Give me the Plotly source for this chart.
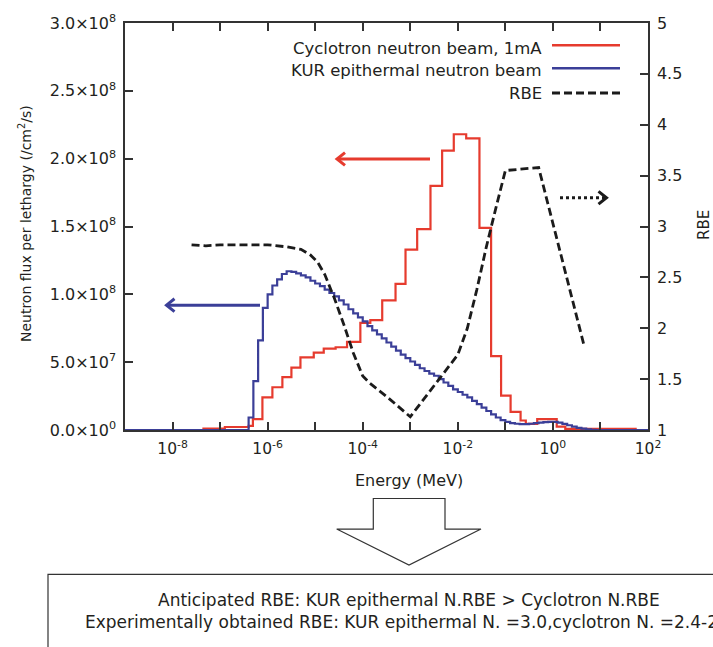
import plotly.graph_objects as go

# ---------------- data ----------------
# Cyclotron neutron beam, 1 mA : step histogram, bin edges in log10(E/MeV), flux in units of 1e8
red_edges_log = [-9.0, -7.35, -6.9, -6.40, -6.31, -6.11, -5.90, -5.69, -5.50, -5.31,
                 -5.03, -4.82, -4.57, -4.33, -4.05, -3.84, -3.59, -3.31, -3.10, -2.855,
                 -2.575, -2.33, -2.085, -1.824, -1.545, -1.30, -1.09, -0.89, -0.68, -0.57,
                 -0.33, 0.08, 0.26, 1.74, 2.0]
red_flux = [0.0, 0.01, 0.022, 0.03, 0.08, 0.24, 0.315, 0.39, 0.46, 0.535,
            0.57, 0.60, 0.61, 0.65, 0.79, 0.81, 0.956, 1.077, 1.33, 1.48,
            1.80, 2.06, 2.18, 2.15, 1.49, 0.545, 0.254, 0.133, 0.07, 0.045,
            0.08, 0.025, 0.008, 0.0]

# KUR epithermal neutron beam : fine step histogram, bins of 0.1 decade starting at 10^-6.4 MeV
blue_start_log = -6.4
blue_bin_log = 0.1
blue_flux = [0.092, 0.36, 0.66, 0.90, 1.00, 1.065, 1.11, 1.15, 1.17, 1.165,
             1.155, 1.14, 1.125, 1.10, 1.08, 1.06, 1.035, 1.01, 0.985, 0.955,
             0.925, 0.89, 0.86, 0.83, 0.80, 0.765, 0.735, 0.705, 0.675, 0.645,
             0.615, 0.585, 0.555, 0.53, 0.505, 0.48, 0.455, 0.435, 0.415, 0.40,
             0.375, 0.35, 0.325, 0.30, 0.28, 0.26, 0.24, 0.215, 0.19, 0.165,
             0.14, 0.115, 0.092, 0.073, 0.06, 0.05, 0.046, 0.044, 0.044, 0.046,
             0.05, 0.054, 0.058, 0.06, 0.06, 0.055, 0.045, 0.035, 0.025, 0.016,
             0.01, 0.005, 0.002, 0.0]

# RBE curve (right axis)
rbe_log_energy = [-7.6, -7.3, -7.0, -6.5, -6.0, -5.6, -5.3, -5.1, -4.95, -4.8,
                  -4.6, -4.4, -4.2, -4.0, -3.85, -3.5, -3.0, -2.0, -1.8, -1.6,
                  -1.4, -1.2, -1.0, -0.3, 0.65]
rbe_values = [2.82, 2.81, 2.82, 2.82, 2.82, 2.80, 2.775, 2.72, 2.65, 2.53,
              2.30, 2.04, 1.76, 1.53, 1.46, 1.33, 1.13, 1.74, 2.0, 2.38,
              2.8, 3.18, 3.55, 3.58, 1.84]

series_names = ["Cyclotron neutron beam, 1mA", "KUR epithermal neutron beam", "RBE"]

flux_tick_vals = [0, 0.5e8, 1.0e8, 1.5e8, 2.0e8, 2.5e8, 3.0e8]
flux_tick_text = ["0.0×10<sup>0</sup>", "5.0×10<sup>7</sup>", "1.0×10<sup>8</sup>",
                  "1.5×10<sup>8</sup>", "2.0×10<sup>8</sup>", "2.5×10<sup>8</sup>",
                  "3.0×10<sup>8</sup>"]
rbe_tick_vals = [1, 1.5, 2, 2.5, 3, 3.5, 4, 4.5, 5]
rbe_tick_text = ["1", "1.5", "2", "2.5", "3", "3.5", "4", "4.5", "5"]
energy_label_exp = [-8, -6, -4, -2, 0, 2]
energy_minor_exp = [-9, -7, -5, -3, -1, 1]

x_title = "Energy (MeV)"
y_title = "Neutron flux per lethargy (/cm<sup>2</sup>/s)"
y2_title = "RBE"
box_line1 = "Anticipated RBE: KUR epithermal N.RBE > Cyclotron N.RBE"
box_line2 = "Experimentally obtained RBE: KUR epithermal N. =3.0,cyclotron N. =2.4-2."

# ---------------- styling / layout ----------------
RED = "#e63b2e"
BLUE = "#3b3f98"
BLACK = "#1b1b1b"
AXC = "#333333"
TXT = "#231f20"
FONT = "DejaVu Sans"

W, H = 713, 647
L, R, T, B = 125, 648, 17, 430


def px(x):
    return (x - L) / (R - L)


def py(y):
    return (B - y) / (B - T)


fig = go.Figure()

# red step histogram
red_x = [10 ** e for e in red_edges_log]
red_y = [v * 1e8 for v in red_flux] + [red_flux[-1] * 1e8]
fig.add_trace(go.Scatter(x=red_x, y=red_y, mode="lines", line_shape="hv",
                         line=dict(color=RED, width=2.2), name=series_names[0],
                         showlegend=False))

# blue step histogram
blue_log = [-9.0] + [round(blue_start_log + i * blue_bin_log, 3) for i in range(len(blue_flux))] + [2.0]
blue_x = [10 ** e for e in blue_log]
blue_y = [0.0] + [v * 1e8 for v in blue_flux] + [0.0]
fig.add_trace(go.Scatter(x=blue_x, y=blue_y, mode="lines", line_shape="hv",
                         line=dict(color=BLUE, width=2.2), name=series_names[1],
                         showlegend=False))

# RBE dashed curve
fig.add_trace(go.Scatter(x=[10 ** e for e in rbe_log_energy], y=rbe_values, mode="lines",
                         yaxis="y2", line=dict(color=BLACK, width=2.8, dash="8px,4px"),
                         name=series_names[2], showlegend=False))

x_ticktext = ["10<sup>%d</sup>" % e for e in energy_label_exp]

fig.update_layout(
    width=W, height=H,
    margin=dict(l=L, r=W - R, t=T, b=H - B),
    paper_bgcolor="white", plot_bgcolor="white",
    font=dict(family=FONT, size=15, color=TXT),
    xaxis=dict(type="log", range=[-9, 2], tickvals=[10 ** e for e in energy_label_exp],
               ticktext=x_ticktext, ticks="inside", ticklen=8, tickwidth=1.5,
               tickcolor=AXC, showline=True, linecolor=AXC, linewidth=1.5,
               mirror="ticks", showgrid=False, zeroline=False,
               minor=dict(tickvals=[10 ** e for e in energy_minor_exp], ticks="inside",
                          ticklen=8, tickwidth=1.5, tickcolor=AXC, showgrid=False),
               tickfont=dict(family=FONT, size=15.5, color=TXT), ticklabelstandoff=4),
    yaxis=dict(range=[0, 3.0e8], tickvals=flux_tick_vals, ticktext=flux_tick_text,
               ticks="inside", ticklen=8, tickwidth=1.5, tickcolor=AXC,
               showline=True, linecolor=AXC, linewidth=1.5, showgrid=False,
               zeroline=False, tickfont=dict(family=FONT, size=16, color=TXT),
               ticklabelstandoff=4),
    yaxis2=dict(range=[1, 5], overlaying="y", side="right", tickvals=rbe_tick_vals,
                ticktext=rbe_tick_text, ticks="inside", ticklen=8, tickwidth=1.5,
                tickcolor=AXC, showline=True, linecolor=AXC, linewidth=1.5,
                showgrid=False, zeroline=False,
                tickfont=dict(family=FONT, size=16, color=TXT), ticklabelstandoff=4),
    showlegend=False,
)

ann = []
shapes = []

# axis titles as annotations
ann.append(dict(text=x_title, x=px(409), y=py(481), xref="paper", yref="paper",
                showarrow=False, font=dict(family=FONT, size=16, color=TXT),
                xanchor="center", yanchor="middle"))
ann.append(dict(text=y_title, x=px(25), y=py(221), xref="paper", yref="paper",
                showarrow=False, textangle=-90, font=dict(family=FONT, size=14, color=TXT),
                xanchor="center", yanchor="middle"))
ann.append(dict(text=y2_title, x=px(704), y=py(222), xref="paper", yref="paper",
                showarrow=False, textangle=-90, font=dict(family=FONT, size=15, color=TXT),
                xanchor="center", yanchor="middle"))

# manual legend (text left of sample line)
leg_text_y = [42.5, 65.5, 88.5]
leg_line_y = [39.5, 63, 88]
leg_styles = [dict(color=RED, width=2.5), dict(color=BLUE, width=2.5),
              dict(color=BLACK, width=3, dash="8px,4px")]
for name, ty, ly, st in zip(series_names, leg_text_y, leg_line_y, leg_styles):
    ann.append(dict(text=name, x=px(544), y=py(ty), xref="paper", yref="paper",
                    showarrow=False, xanchor="right", yanchor="middle",
                    font=dict(family=FONT, size=16.5, color=TXT)))
    shapes.append(dict(type="line", xref="paper", yref="paper", x0=px(552), x1=px(620),
                       y0=py(ly), y1=py(ly), line=st))


def arrow(x_tail, x_head, yy, color, dash="solid"):
    d = 1 if x_head > x_tail else -1
    shapes.append(dict(type="line", xref="paper", yref="paper",
                       x0=px(x_tail), x1=px(x_head - d * 1.5), y0=py(yy), y1=py(yy),
                       line=dict(color=color, width=3, dash=dash)))
    shapes.append(dict(type="path", xref="paper", yref="paper",
                       path="M %f,%f L %f,%f L %f,%f" % (px(x_head - d * 8), py(yy - 6.5),
                                                        px(x_head), py(yy),
                                                        px(x_head - d * 8), py(yy + 6.5)),
                       line=dict(color=color, width=3)))


arrow(430, 337, 155, RED)            # cyclotron -> left axis
arrow(260, 166.5, 303.3, BLUE)       # KUR -> left axis
arrow(560, 606.5, 194.3, BLACK, "dot")  # RBE -> right axis

# block arrow below the chart
pts = [(373.3, 499.5), (445, 499.5), (445, 530.5), (481, 530.5), (409, 567),
       (336.7, 530.5), (373.3, 530.5)]
path = "M " + " L ".join("%f,%f" % (px(a), py(b)) for a, b in pts) + " Z"
shapes.append(dict(type="path", xref="paper", yref="paper", path=path,
                   line=dict(color=AXC, width=1.2), fillcolor="white"))

# conclusion box (extends beyond the picture, as in the reference)
shapes.append(dict(type="rect", xref="paper", yref="paper", x0=px(48), x1=px(730),
                   y0=py(576.5), y1=py(670), line=dict(color=AXC, width=1.2),
                   fillcolor="rgba(0,0,0,0)"))
ann.append(dict(text=box_line1, x=px(409), y=py(603), xref="paper", yref="paper",
                showarrow=False, xanchor="center", yanchor="middle",
                font=dict(family=FONT, size=17, color=TXT)))
ann.append(dict(text=box_line2, x=px(83), y=py(625), xref="paper", yref="paper",
                showarrow=False, xanchor="left", yanchor="middle",
                font=dict(family=FONT, size=17, color=TXT)))

fig.update_layout(annotations=ann, shapes=shapes)
fig.write_html("out.html", config={"displayModeBar": False},
               post_script="document.body.style.margin='0px';")
